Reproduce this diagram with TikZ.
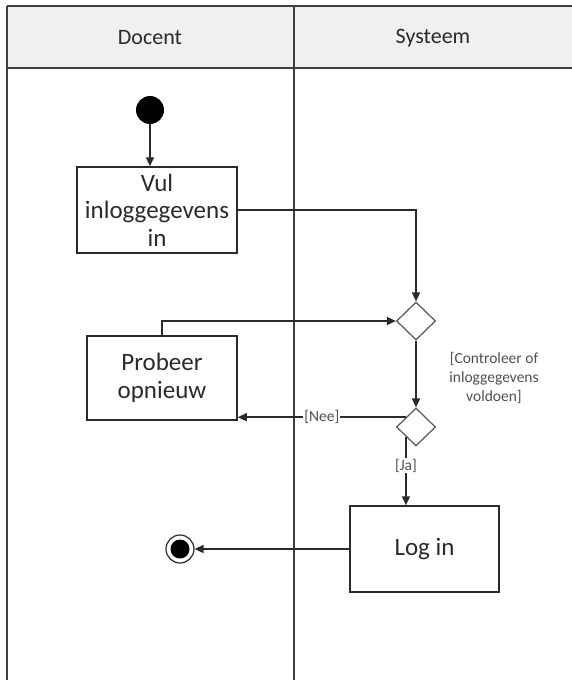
\documentclass[tikz,border=0pt]{standalone}
\usepackage{fontspec}
\setmainfont{Carlito}
\usetikzlibrary{arrows.meta,shapes.geometric}
\definecolor{hdr}{HTML}{F0F0F0}
\definecolor{ink}{HTML}{2A2A2A}
\definecolor{lbl}{HTML}{505050}
\begin{document}
\begin{tikzpicture}[x=1pt,y=-1pt,
  actbox/.style={draw=ink,line width=1.5pt,fill=white,align=center,text=ink,inner sep=0pt,
    font=\fontsize{25}{27.5}\selectfont},
  decis/.style={draw=ink!80,line width=1.2pt,shape=diamond,fill=white,inner sep=0pt,
    minimum width=39pt,minimum height=38pt},
  flow/.style={draw=ink,line width=1.5pt,-{Triangle[length=9pt,width=8pt]}},
  plain/.style={draw=ink,line width=1.5pt},
  guard/.style={text=lbl,font=\fontsize{15.5}{19}\selectfont,align=center,inner sep=1pt,fill=white},
  lane/.style={draw=ink!90,line width=1.5pt},
  hdrtext/.style={text=ink,font=\fontsize{22}{24}\selectfont}]
\useasboundingbox (0,0) rectangle (572,680);
\fill[white] (0,0) rectangle (572,680);
% swimlanes
\fill[hdr] (7,6) rectangle (572,68);
\draw[lane,line width=2pt] (7,6) -- (572,6);
\draw[lane] (7,68) -- (572,68);
\draw[lane] (7,6) -- (7,680);
\draw[lane] (294,6) -- (294,680);
\node[hdrtext] (hd) at (150,38) {Docent};
\node[hdrtext] (hs) at (433,38) {Systeem};
% nodes
\node[circle,fill=black,minimum size=28pt,inner sep=0pt] (start) at (150,110) {};
\node[actbox,minimum width=160pt,minimum height=86pt] (vul) at (157,210) {Vul\\inloggegevens\\in};
\node[decis] (d1) at (416,321) {};
\node[decis] (d2) at (416,427) {};
\node[actbox,minimum width=150pt,minimum height=84pt] (pb) at (162,378) {Probeer\\opnieuw};
\node[actbox,minimum width=149pt,minimum height=86pt] (li) at (424.5,549) {Log in};
\node[circle,draw=ink,line width=1.2pt,fill=white,minimum size=28pt,inner sep=0pt] (end) at (180,549) {};
\node[circle,fill=black,minimum size=19pt,inner sep=0pt] (endin) at (end.center) {};
\node[guard,fill=none] (ctl) at (494,378) {[Controleer of\\inloggegevens\\voldoen]};
% connectors
\draw[flow] (start) -- (start |- vul.north);
\draw[flow] (vul.east) -| (d1.north);
\draw[flow] (pb.north) |- (d1.west);
\draw[flow] (d1.south) -- (d2.north);
\draw[flow] (d2.north west) -- (d2.north west -| pb.east) node[guard,pos=0.5] (nee) {[Nee]};
\draw[flow] (d2.south west) -- (d2.south west |- li.north) node[guard,pos=0.42] (ja) {[Ja]};
\draw[flow] (li.west) -- (end);
\end{tikzpicture}
\end{document}
